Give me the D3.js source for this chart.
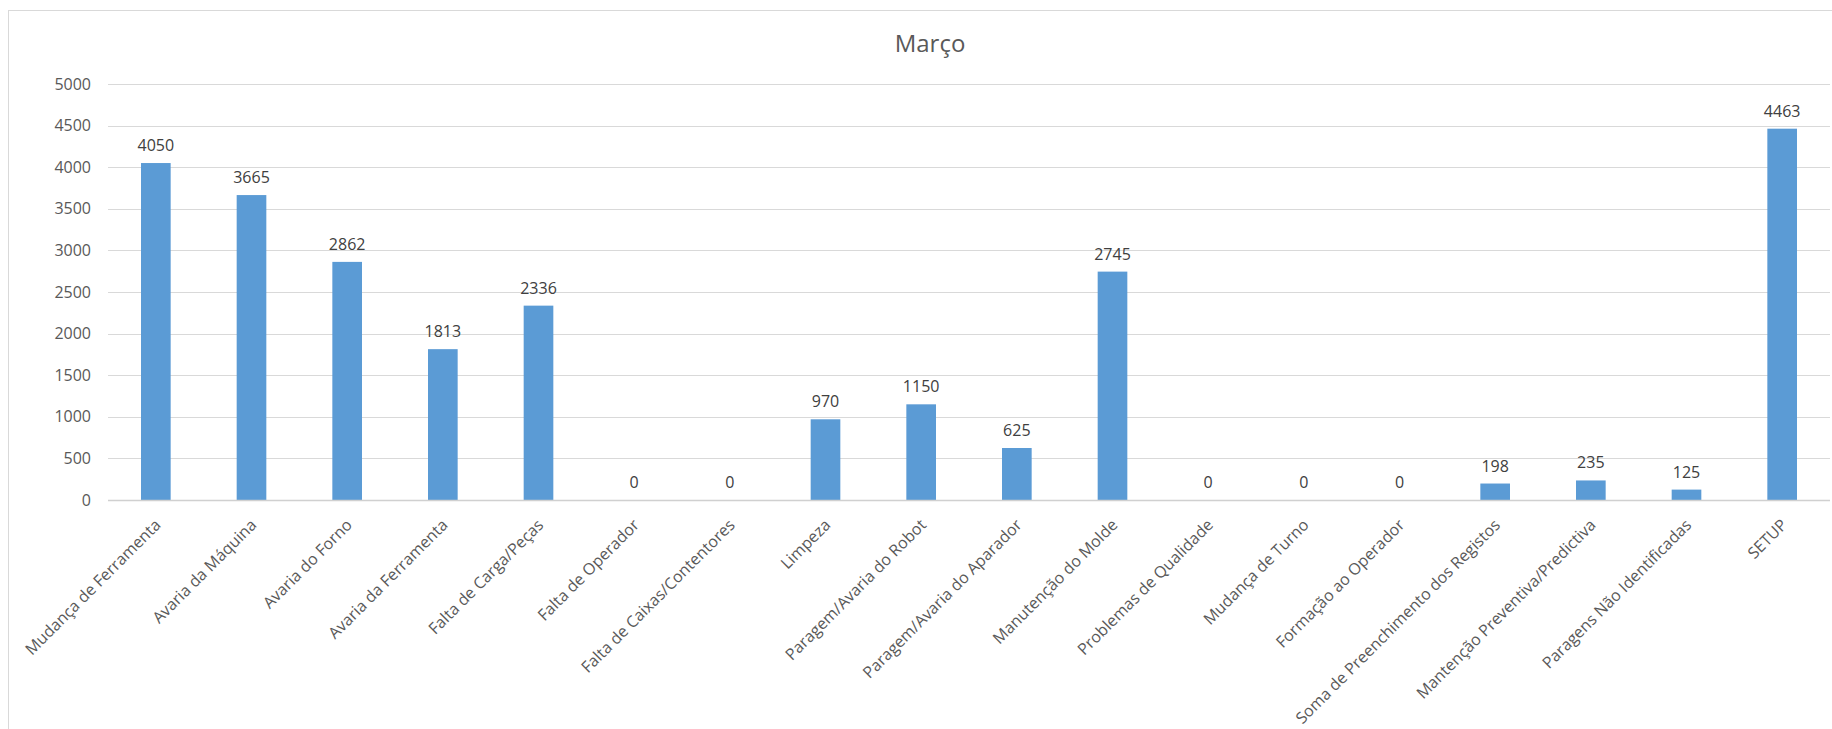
<!DOCTYPE html>
<html>
<head>
<meta charset="utf-8">
<script src="https://cdn.jsdelivr.net/npm/d3@7"></script>
<style>
  html, body { margin: 0; padding: 0; background: #ffffff; }
  svg { display: block; }
  text { font-family: "Open Sans", "Noto Sans", sans-serif; }
</style>
</head>
<body>
<svg id="chart" width="1832" height="729"></svg>
<script>
// Stoppage categories for March and their totals
const categories = [
  "Mudança de Ferramenta",
  "Avaria da Máquina",
  "Avaria do Forno",
  "Avaria da Ferramenta",
  "Falta de Carga/Peças",
  "Falta de Operador",
  "Falta de Caixas/Contentores",
  "Limpeza",
  "Paragem/Avaria do Robot",
  "Paragem/Avaria do Aparador",
  "Manutenção do Molde",
  "Problemas de Qualidade",
  "Mudança de Turno",
  "Formação ao Operador",
  "Soma de Preenchimento dos Registos",
  "Mantenção Preventiva/Predictiva",
  "Paragens Não Identificadas",
  "SETUP"
];
const values = [4050, 3665, 2862, 1813, 2336, 0, 0, 970, 1150, 625, 2745, 0, 0, 0, 198, 235, 125, 4463];
const yTicks = [0, 500, 1000, 1500, 2000, 2500, 3000, 3500, 4000, 4500, 5000];
const title = "Março";

const svg = d3.select("#chart");

// chart frame
svg.append("rect")
  .attr("x", 8.5).attr("y", 10.5)
  .attr("width", 1840).attr("height", 740)
  .attr("fill", "#ffffff")
  .attr("stroke", "#d9d9d9")
  .attr("stroke-width", 1);

const plot = { left: 108, right: 1830, top: 84, bottom: 500 };

const x = d3.scaleBand()
  .domain(categories)
  .range([plot.left, plot.right])
  .paddingInner(0.69)
  .paddingOuter(0.345);

const y = d3.scaleLinear()
  .domain([0, 5000])
  .range([plot.bottom, plot.top]);

// horizontal gridlines
svg.append("g")
  .selectAll("line")
  .data(yTicks.filter(t => t > 0))
  .join("line")
  .attr("x1", plot.left).attr("x2", plot.right)
  .attr("y1", d => Math.round(y(d)) + 0.5)
  .attr("y2", d => Math.round(y(d)) + 0.5)
  .attr("stroke", "#d9d9d9")
  .attr("stroke-width", 1.2);

// y axis labels
const yAxis = d3.axisLeft(y)
  .tickValues(yTicks)
  .tickFormat(d3.format("d"))
  .tickSize(0)
  .tickPadding(17);
const gy = svg.append("g")
  .attr("transform", `translate(${plot.left},0)`)
  .call(yAxis);
gy.select(".domain").remove();
gy.selectAll("text")
  .attr("font-size", 16)
  .attr("fill", "#595959")
  .style("font-family", "'Open Sans', sans-serif");

// bars
svg.append("g")
  .selectAll("rect")
  .data(values)
  .join("rect")
  .attr("x", (d, i) => x(categories[i]))
  .attr("width", x.bandwidth())
  .attr("y", d => y(d))
  .attr("height", d => y(0) - y(d))
  .attr("fill", "#5b9bd5");

// category axis line
svg.append("line")
  .attr("x1", plot.left).attr("x2", plot.right)
  .attr("y1", y(0) + 0.5).attr("y2", y(0) + 0.5)
  .attr("stroke", "#d0d0d0")
  .attr("stroke-width", 1.6);

// value labels
svg.append("g")
  .selectAll("text")
  .data(values)
  .join("text")
  .attr("x", (d, i) => x(categories[i]) + x.bandwidth() / 2)
  .attr("y", d => y(d) - 12)
  .attr("text-anchor", "middle")
  .attr("font-size", 16)
  .attr("fill", "#404040")
  .text(d => d);

// rotated category labels
svg.append("g")
  .selectAll("text")
  .data(categories)
  .join("text")
  .attr("transform", d => `translate(${x(d) + x.bandwidth() / 2 + 6},${y(0) + 26}) rotate(-45)`)
  .attr("text-anchor", "end")
  .attr("font-size", 16)
  .attr("fill", "#595959")
  .text(d => d);

// title
svg.append("text")
  .attr("x", 930)
  .attr("y", 52)
  .attr("text-anchor", "middle")
  .attr("font-size", 24)
  .attr("fill", "#595959")
  .text(title);
</script>
</body>
</html>
